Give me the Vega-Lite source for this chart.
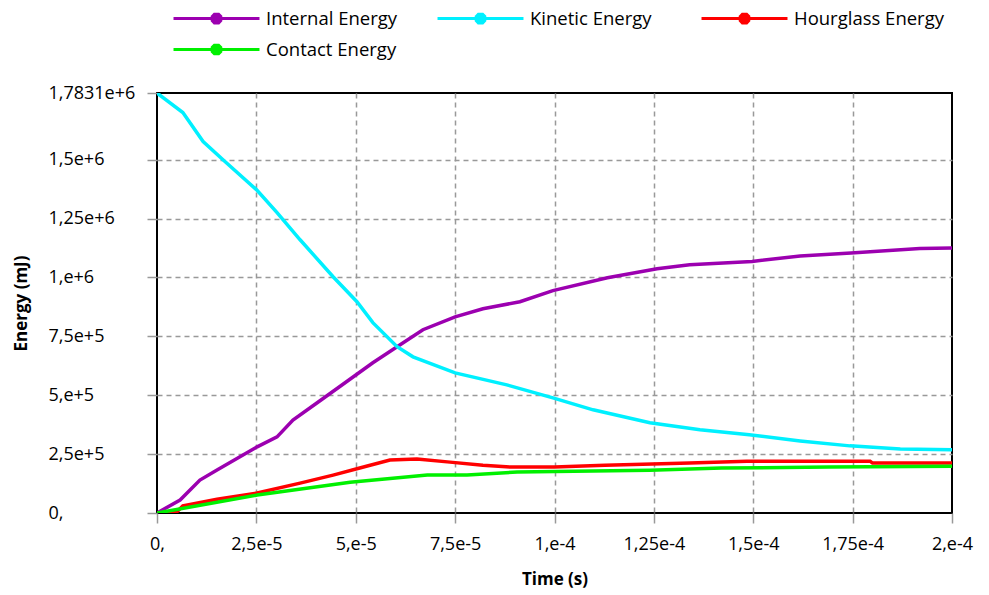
{
  "$schema": "https://vega.github.io/schema/vega-lite/v6.json",
  "autosize": {"type": "none"},
  "padding": {"left": 157, "top": 93, "right": 37, "bottom": 82},
  "width": 795,
  "height": 420,
  "background": "white",
  "config": {
    "font": "Open Sans",
    "view": {"stroke": "black", "strokeWidth": 2}
  },
  "data": {
    "values": [
      {"series": "Internal Energy", "t": 0, "e": 0},
      {"series": "Internal Energy", "t": 0.0000058, "e": 55000},
      {"series": "Internal Energy", "t": 0.0000108, "e": 140000},
      {"series": "Internal Energy", "t": 0.0000151, "e": 183000},
      {"series": "Internal Energy", "t": 0.0000252, "e": 281000},
      {"series": "Internal Energy", "t": 0.0000302, "e": 323000},
      {"series": "Internal Energy", "t": 0.0000342, "e": 395000},
      {"series": "Internal Energy", "t": 0.0000403, "e": 468000},
      {"series": "Internal Energy", "t": 0.000046, "e": 537000},
      {"series": "Internal Energy", "t": 0.0000543, "e": 638000},
      {"series": "Internal Energy", "t": 0.0000604, "e": 706000},
      {"series": "Internal Energy", "t": 0.0000669, "e": 778000},
      {"series": "Internal Energy", "t": 0.000075, "e": 833000},
      {"series": "Internal Energy", "t": 0.000082, "e": 867000},
      {"series": "Internal Energy", "t": 0.0000913, "e": 897000},
      {"series": "Internal Energy", "t": 0.0000996, "e": 944000},
      {"series": "Internal Energy", "t": 0.0001133, "e": 999000},
      {"series": "Internal Energy", "t": 0.0001258, "e": 1037000},
      {"series": "Internal Energy", "t": 0.000134, "e": 1054000},
      {"series": "Internal Energy", "t": 0.0001497, "e": 1068000},
      {"series": "Internal Energy", "t": 0.0001618, "e": 1091000},
      {"series": "Internal Energy", "t": 0.0001746, "e": 1104000},
      {"series": "Internal Energy", "t": 0.0001919, "e": 1123000},
      {"series": "Internal Energy", "t": 0.0002, "e": 1125000},
      {"series": "Kinetic Energy", "t": 0, "e": 1783100},
      {"series": "Kinetic Energy", "t": 0.0000065, "e": 1700000},
      {"series": "Kinetic Energy", "t": 0.0000116, "e": 1577000},
      {"series": "Kinetic Energy", "t": 0.0000166, "e": 1500000},
      {"series": "Kinetic Energy", "t": 0.000025, "e": 1373000},
      {"series": "Kinetic Energy", "t": 0.0000302, "e": 1275000},
      {"series": "Kinetic Energy", "t": 0.000036, "e": 1160000},
      {"series": "Kinetic Energy", "t": 0.0000443, "e": 1003000},
      {"series": "Kinetic Energy", "t": 0.0000503, "e": 897000},
      {"series": "Kinetic Energy", "t": 0.0000543, "e": 808000},
      {"series": "Kinetic Energy", "t": 0.0000604, "e": 706000},
      {"series": "Kinetic Energy", "t": 0.0000644, "e": 663000},
      {"series": "Kinetic Energy", "t": 0.000075, "e": 595000},
      {"series": "Kinetic Energy", "t": 0.000088, "e": 544000},
      {"series": "Kinetic Energy", "t": 0.0000996, "e": 489000},
      {"series": "Kinetic Energy", "t": 0.0001097, "e": 438000},
      {"series": "Kinetic Energy", "t": 0.000124, "e": 383000},
      {"series": "Kinetic Energy", "t": 0.0001366, "e": 353000},
      {"series": "Kinetic Energy", "t": 0.000149, "e": 332000},
      {"series": "Kinetic Energy", "t": 0.0001618, "e": 306000},
      {"series": "Kinetic Energy", "t": 0.0001743, "e": 285000},
      {"series": "Kinetic Energy", "t": 0.000187, "e": 272000},
      {"series": "Kinetic Energy", "t": 0.0002, "e": 268000},
      {"series": "Hourglass Energy", "t": 0, "e": 0},
      {"series": "Hourglass Energy", "t": 0.000005, "e": 5000},
      {"series": "Hourglass Energy", "t": 0.0000065, "e": 30000},
      {"series": "Hourglass Energy", "t": 0.0000151, "e": 58000},
      {"series": "Hourglass Energy", "t": 0.0000252, "e": 85000},
      {"series": "Hourglass Energy", "t": 0.000036, "e": 127000},
      {"series": "Hourglass Energy", "t": 0.0000443, "e": 161000},
      {"series": "Hourglass Energy", "t": 0.000051, "e": 191000},
      {"series": "Hourglass Energy", "t": 0.0000586, "e": 225000},
      {"series": "Hourglass Energy", "t": 0.0000654, "e": 229000},
      {"series": "Hourglass Energy", "t": 0.0000737, "e": 216000},
      {"series": "Hourglass Energy", "t": 0.000082, "e": 203000},
      {"series": "Hourglass Energy", "t": 0.0000888, "e": 195000},
      {"series": "Hourglass Energy", "t": 0.0001, "e": 195000},
      {"series": "Hourglass Energy", "t": 0.0001127, "e": 203000},
      {"series": "Hourglass Energy", "t": 0.000134, "e": 212000},
      {"series": "Hourglass Energy", "t": 0.0001484, "e": 220000},
      {"series": "Hourglass Energy", "t": 0.0001794, "e": 220000},
      {"series": "Hourglass Energy", "t": 0.00018, "e": 212000},
      {"series": "Hourglass Energy", "t": 0.0002, "e": 212000},
      {"series": "Contact Energy", "t": 0, "e": 0},
      {"series": "Contact Energy", "t": 0.0000252, "e": 76000},
      {"series": "Contact Energy", "t": 0.0000486, "e": 131000},
      {"series": "Contact Energy", "t": 0.000068, "e": 161000},
      {"series": "Contact Energy", "t": 0.000078, "e": 161000},
      {"series": "Contact Energy", "t": 0.0000906, "e": 174000},
      {"series": "Contact Energy", "t": 0.000124, "e": 182000},
      {"series": "Contact Energy", "t": 0.000142, "e": 191000},
      {"series": "Contact Energy", "t": 0.000169, "e": 195000},
      {"series": "Contact Energy", "t": 0.0002, "e": 199000}
    ]
  },
  "mark": {"type": "line", "strokeWidth": 3.5, "clip": true},
  "encoding": {
    "x": {
      "field": "t",
      "type": "quantitative",
      "scale": {"domain": [0, 0.0002], "nice": false},
      "axis": {
        "title": "Time (s)",
        "values": [0, 0.000025, 0.00005, 0.000075, 0.0001, 0.000125, 0.00015, 0.000175, 0.0002],
        "labelExpr": "['0,', '2,5e-5', '5,e-5', '7,5e-5', '1,e-4', '1,25e-4', '1,5e-4', '1,75e-4', '2,e-4'][round(datum.value / 0.000025)]",
        "labelFontSize": 18,
        "labelColor": "black",
        "labelPadding": 12,
        "labelFlush": false,
        "tickColor": "#999999",
        "tickSize": 10,
        "tickWidth": 1.5,
        "domain": false,
        "grid": true,
        "gridColor": "#999999",
        "gridDash": [5, 4],
        "gridWidth": 1.5,
        "gridOpacity": {"condition": {"test": "datum.value <= 0 || datum.value >= 0.00019", "value": 0}, "value": 1},
        "titleFontSize": 17,
        "titleFontWeight": "bold",
        "titleColor": "black",
        "titlePadding": 18
      }
    },
    "y": {
      "field": "e",
      "type": "quantitative",
      "scale": {"domain": [0, 1783100], "nice": false},
      "axis": {
        "title": "Energy (mJ)",
        "values": [0, 250000, 500000, 750000, 1000000, 1250000, 1500000, 1783100],
        "labelExpr": "['0,', '2,5e+5', '5,e+5', '7,5e+5', '1,e+6', '1,25e+6', '1,5e+6', '1,7831e+6'][round(datum.value / 250000)]",
        "labelFontSize": 18,
        "labelColor": "black",
        "labelAlign": "left",
        "labelPadding": 99,
        "labelFlush": false,
        "tickColor": "#999999",
        "tickSize": 10,
        "tickWidth": 1.5,
        "domain": false,
        "grid": true,
        "gridColor": "#999999",
        "gridDash": [5, 4],
        "gridWidth": 1.5,
        "gridOpacity": {"condition": {"test": "datum.value <= 0 || datum.value >= 1700000", "value": 0}, "value": 1},
        "titleFontSize": 17,
        "titleFontWeight": "bold",
        "titleColor": "black",
        "titlePadding": 18
      }
    },
    "color": {
      "field": "series",
      "type": "nominal",
      "scale": {
        "domain": ["Internal Energy", "Kinetic Energy", "Hourglass Energy", "Contact Energy"],
        "range": ["#9C00B0", "#00F0FF", "#FF0000", "#00F000"]
      },
      "legend": {
        "title": null,
        "orient": "none",
        "legendX": 47,
        "legendY": -87,
        "direction": "horizontal",
        "columns": 3,
        "gridAlign": "all",
        "columnPadding": 15,
        "rowPadding": 8,
        "labelFontSize": 18.5,
        "labelColor": "black",
        "labelOffset": 37,
        "symbolType": "M-4,0H4M-0.4,-0.2L-0.2,-0.4L0.2,-0.4L0.4,-0.2L0.4,0.2L0.2,0.4L-0.2,0.4L-0.4,0.2Z",
        "symbolSize": 462,
        "symbolStrokeWidth": 3,
        "encode": {
          "symbols": {"update": {"fill": {"scale": "color", "field": "value"}}}
        }
      }
    }
  }
}
